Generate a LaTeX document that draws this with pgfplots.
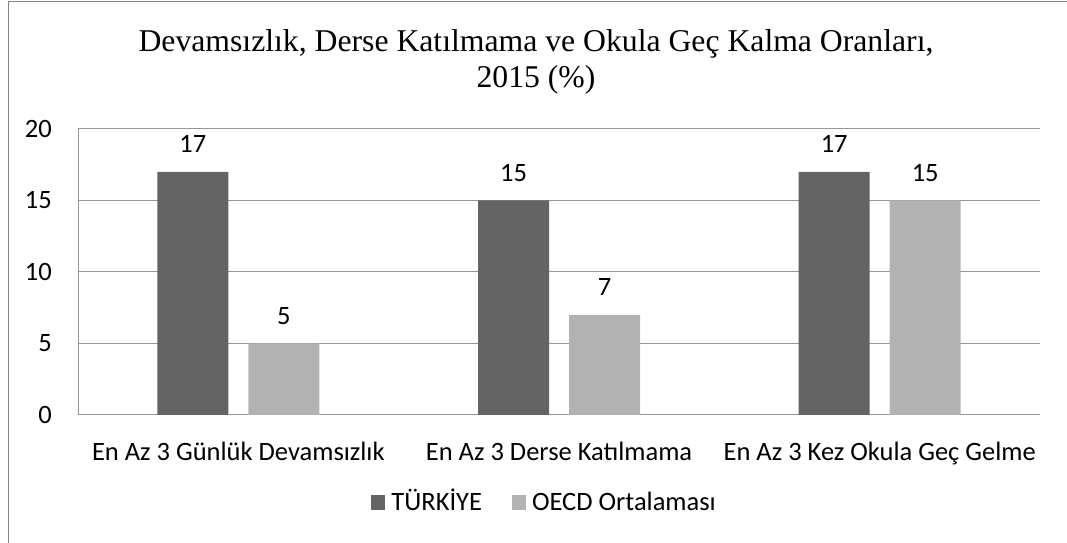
\documentclass[border=0pt]{standalone}
\usepackage{pgfplots}
\pgfplotsset{compat=1.18}
\usepackage{fontspec}
\setmainfont{Carlito}
\newfontfamily\titlefont{Liberation Serif}
\definecolor{darkbar}{RGB}{100,100,100}
\definecolor{lightbar}{RGB}{178,178,178}
\definecolor{gridc}{RGB}{150,150,150}
\definecolor{framec}{RGB}{134,134,134}
\begin{document}
\begin{tikzpicture}[x=1bp,y=1bp]
\useasboundingbox (0,0) rectangle (1067,543);
\draw[framec, line width=1bp] (8,0) -- (8,541) -- (1067,541);
\node[anchor=base, font=\titlefont\fontsize{31.7bp}{38bp}\selectfont] at (536,491) {Devamsızlık, Derse Katılmama ve Okula Geç Kalma Oranları,};
\node[anchor=base, font=\titlefont\fontsize{31.7bp}{38bp}\selectfont] at (536,455) {2015 (\%)};
\begin{axis}[
  at={(78bp,128bp)}, anchor=south west,
  scale only axis, width=962bp, height=286bp,
  xmin=-0.5, xmax=2.5, ymin=0, ymax=20,
  ybar=20bp, bar width=71bp,
  xtick={0,1,2},
  xticklabels={En Az 3 Günlük Devamsızlık, En Az 3 Derse Katılmama, En Az 3 Kez Okula Geç Gelme},
  ytick={0,5,10,15,20},
  /pgf/number format/assume math mode=true,
  font=\fontsize{26.5bp}{31bp}\selectfont,
  tick style={draw=none},
  axis line style={gridc, line width=1bp},
  axis x line*=bottom, axis y line*=left,
  ymajorgrids, grid style={gridc, line width=1bp},
  x tick label style={anchor=base, yshift=-41bp, inner sep=0pt},
  y tick label style={anchor=east, xshift=-26bp, inner sep=0pt},
  nodes near coords,
  every node near coord/.append style={anchor=base, yshift=19bp, inner sep=0pt, font=\fontsize{26.5bp}{31bp}\selectfont},
  legend columns=2,
  legend style={at={(0.484,-0.304)}, anchor=center, draw=none, fill=none,
    font=\fontsize{26.5bp}{31bp}\selectfont,
    nodes={text height=17bp, text depth=0bp, inner sep=0pt},
    /tikz/every odd column/.append style={column sep=6bp},
    /tikz/every even column/.append style={column sep=30bp}},
  legend image code/.code={\fill[#1] (0bp,-8bp) rectangle (14bp,7bp);},
]
\addplot[fill=darkbar, draw=none] coordinates {(0,17) (1,15) (2,17)};
\addplot[fill=lightbar, draw=none] coordinates {(0,5) (1,7) (2,15)};
\legend{TÜRKİYE, OECD Ortalaması}
\end{axis}
\end{tikzpicture}
\end{document}
